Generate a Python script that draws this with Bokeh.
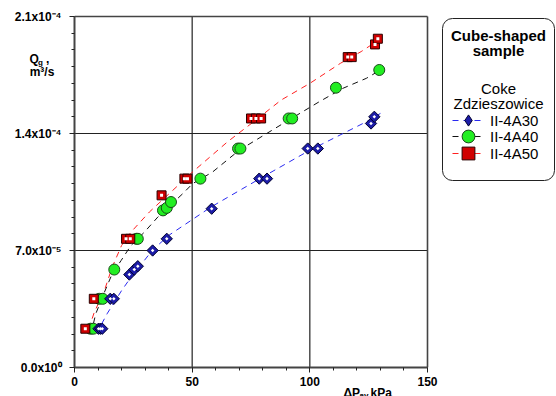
from math import pi
from bokeh.plotting import figure
from bokeh.models import (Range1d, FixedTicker, CustomJSTickFormatter, Label,
                          BoxAnnotation, Legend, LegendItem)
from bokeh.embed import file_html
from bokeh.resources import INLINE

# ---- data (dP in kPa, Q in m3/s) ----
x30 = [10.2, 11.0, 11.8, 15.2, 16.7, 23.3, 25.4, 26.9, 33.2, 39.2, 58.3, 78.5, 81.8, 99.1, 103.4, 126.0, 127.4]
y30 = [2.32e-5, 2.32e-5, 2.32e-5, 4.11e-5, 4.11e-5, 5.56e-5, 5.86e-5, 6.06e-5, 7.0e-5, 7.7e-5, 9.5e-5,
       11.3e-5, 11.3e-5, 13.1e-5, 13.1e-5, 14.6e-5, 15.0e-5]
x40 = [6.8, 8.0, 10.5, 12.0, 16.9, 26.3, 26.9, 37.6, 39.2, 41.0, 53.5, 69.5, 70.5, 91.0, 92.5, 111.1, 129.5]
y40 = [2.32e-5, 2.32e-5, 4.11e-5, 4.11e-5, 5.86e-5, 7.7e-5, 7.7e-5, 9.4e-5, 9.55e-5, 9.9e-5, 11.3e-5,
       13.1e-5, 13.1e-5, 14.9e-5, 14.9e-5, 16.74e-5, 17.8e-5]
x50 = [4.6, 8.2, 21.9, 23.7, 37.0, 46.7, 48.0, 75.0, 77.1, 79.3, 116.1, 117.8, 127.7, 128.9]
y50 = [2.32e-5, 4.11e-5, 7.7e-5, 7.7e-5, 10.3e-5, 11.3e-5, 11.3e-5, 14.9e-5, 14.9e-5, 14.9e-5,
       18.57e-5, 18.57e-5, 19.33e-5, 19.67e-5]

# trend lines
tx30 = [11.5, 14, 20, 23.5, 33, 40, 58, 80, 100, 124, 130]
ty30 = [2.6e-5, 3.25e-5, 4.6e-5, 5.3e-5, 7.0e-5, 7.9e-5, 9.6e-5, 11.4e-5, 13.0e-5, 14.7e-5, 15.2e-5]
tx40 = [7, 9, 12.7, 16, 19.8, 24, 29.7, 35.4, 46, 50.2, 58.7, 70, 91, 104, 114, 124, 130]
ty40 = [2.0e-5, 3.2e-5, 4.5e-5, 5.6e-5, 6.4e-5, 7.3e-5, 8.1e-5, 9.0e-5, 10.4e-5, 11.0e-5, 11.7e-5,
        13.0e-5, 14.8e-5, 15.9e-5, 16.7e-5, 17.3e-5, 17.8e-5]
tx50 = [6, 8.4, 12.7, 16, 20, 24, 31.8, 41, 50.2, 65, 77, 87.8, 100, 113, 121.8, 131]
ty50 = [2.3e-5, 3.3e-5, 4.6e-5, 6.0e-5, 7.3e-5, 8.1e-5, 9.3e-5, 10.5e-5, 11.7e-5, 13.5e-5, 14.8e-5,
        16.0e-5, 17.0e-5, 18.2e-5, 18.9e-5, 19.75e-5]

series_names = ["II-4A30", "II-4A40", "II-4A50"]
x_ticks = [0, 50, 100, 150]
y_ticks = [0.0, 7.0e-5, 1.4e-4, 2.1e-4]
x_grid = [50, 100]
y_grid = [7.0e-5, 1.4e-4]

X_MAX = x_ticks[-1]
Y_MAX = y_ticks[-1]
FONT = "Liberation Sans"
BLUE_FILL, BLUE_EDGE = "#1c1ca8", "#000030"
GREEN_FILL, GREEN_EDGE = "#22ee22", "#1a4a1a"
RED_FILL, RED_EDGE = "#d00000", "#2a0000"

# frame covers the plot box plus the legend area on the right and the top margin
p = figure(frame_width=482, frame_height=367,
           min_border_left=74, min_border_right=0, min_border_top=0, min_border_bottom=29,
           x_range=Range1d(0, X_MAX * 482 / 353), y_range=Range1d(0, Y_MAX * 367 / 351),
           toolbar_location=None, output_backend="svg",
           background_fill_color="white", border_fill_color="white")
p.outline_line_color = None
p.grid.visible = False

# axes
p.xaxis.ticker = FixedTicker(ticks=x_ticks, minor_ticks=list(range(0, 151, 10)))
p.yaxis.ticker = FixedTicker(ticks=y_ticks, minor_ticks=[i * 1e-5 for i in range(22)])
p.xaxis.bounds = (0, X_MAX)
p.yaxis.bounds = (0, Y_MAX)
p.yaxis.formatter = CustomJSTickFormatter(code="""
if (tick == 0) return "0.0x10\u2070";
const e = Math.floor(Math.log10(tick) + 1e-9);
const m = tick / Math.pow(10, e);
const sup = {"-":"\u207b","0":"\u2070","1":"\u00b9","2":"\u00b2","3":"\u00b3","4":"\u2074",
             "5":"\u2075","6":"\u2076","7":"\u2077","8":"\u2078","9":"\u2079"};
let s = "";
for (const c of String(e)) s += sup[c];
return m.toFixed(1) + "x10" + s;
""")
for ax in (p.xaxis, p.yaxis):
    ax.axis_line_color = "#444444"
    ax.axis_line_width = 2
    ax.major_tick_line_color = "#222222"
    ax.minor_tick_line_color = "#222222"
    ax.major_tick_in = 0
    ax.major_tick_out = 5
    ax.minor_tick_in = 0
    ax.minor_tick_out = 3
    ax.major_label_text_font = FONT
    ax.major_label_text_font_style = "bold"
    ax.major_label_text_font_size = "12px"
    ax.major_label_text_color = "black"
p.xaxis.major_label_standoff = 4
p.yaxis.major_label_standoff = 8

# grid lines and plot-box border (from the tick arrays)
p.segment(x0=x_grid, y0=[0] * len(x_grid), x1=x_grid, y1=[Y_MAX] * len(x_grid),
          line_color="#222222", line_width=1.2, level="underlay")
p.segment(x0=[0] * len(y_grid), y0=y_grid, x1=[X_MAX] * len(y_grid), y1=y_grid,
          line_color="#222222", line_width=1.2, level="underlay")
p.segment(x0=[0, X_MAX], y0=[Y_MAX, 0], x1=[X_MAX, X_MAX], y1=[Y_MAX, Y_MAX],
          line_color="#444444", line_width=1.6, level="underlay")

# series
l30 = p.line(tx30, ty30, line_color="#2a2af0", line_dash="6 5", line_width=1)
l40 = p.line(tx40, ty40, line_color="#111111", line_dash="6 5", line_width=1)
l50 = p.line(tx50, ty50, line_color="#ff2020", line_dash="6 5", line_width=1)

o40 = p.scatter(x40, y40, marker="circle", size=11, fill_color=GREEN_FILL,
                line_color=GREEN_EDGE, line_width=1)
o50 = p.scatter(x50, y50, marker="square", size=9, fill_color=RED_FILL,
                line_color=RED_EDGE, line_width=1)
i50 = p.scatter(x50, y50, marker="square", size=3, fill_color="white", line_color=None)
# diamond glyph (used by the legend, which ignores marker rotation); it sits
# fully inside the rotated square drawn on top of it
k30 = p.scatter(x30, y30, marker="diamond", size=9, fill_color=BLUE_FILL,
                line_color=BLUE_EDGE, line_width=1)
o30 = p.scatter(x30, y30, marker="square", angle=pi / 4, size=8, fill_color=BLUE_FILL,
                line_color=BLUE_EDGE, line_width=1)
i30 = p.scatter(x30, y30, marker="square", angle=pi / 4, size=2.5, fill_color="white",
                line_color=None)

# legend box (frame-relative screen units)
box = BoxAnnotation(left=368, right=480, top=349, bottom=187,
                    left_units="screen", right_units="screen",
                    top_units="screen", bottom_units="screen",
                    fill_color="white", fill_alpha=1.0,
                    line_color="#222222", line_width=1, line_alpha=1.0,
                    border_radius=10)
p.add_layout(box)

for txt, yy, style in [("Cube-shaped", 332, "bold"), ("sample", 317, "bold"),
                       ("Coke", 279, "normal"), ("Zdzieszowice", 264, "normal")]:
    p.add_layout(Label(x=424, y=yy, x_units="screen", y_units="screen", text=txt,
                       text_align="center", text_baseline="middle",
                       text_font=FONT, text_font_size="15px", text_font_style=style,
                       text_color="black"))

# one single-row legend per series, so rows can sit 16 px apart with full-size markers
for name, rends, gh, row_bottom in [(series_names[0], [l30, k30], 28, 233),
                                    (series_names[1], [l40, o40], 32, 215),
                                    (series_names[2], [l50, o50], 32, 198)]:
    p.add_layout(Legend(items=[LegendItem(label=name, renderers=rends)],
                        location=(378, row_bottom), padding=0, margin=0,
                        spacing=0, glyph_width=32, glyph_height=gh, label_height=gh,
                        label_standoff=6, border_line_alpha=0, background_fill_alpha=0,
                        label_text_font=FONT, label_text_font_size="15px",
                        label_text_color="black"))

# axis titles, drawn as labels in data coordinates; kept in the lower side panel so
# they are not clipped to the plotting frame
for txt, xx, yy, size, align, base in [("Q", -19.1, 1.846e-4, "12px", "left", "middle"),
                                       ("g", -15.5, 1.822e-4, "8px", "left", "middle"),
                                       (",", -12.1, 1.846e-4, "12px", "left", "middle"),
                                       ("m\u00b3/s", -13.8, 1.765e-4, "12px", "center", "middle"),
                                       ("\u0394P", 114.3, -1.5e-5, "12px", "left", "alphabetic"),
                                       ("av,", 121.1, -1.67e-5, "8px", "left", "alphabetic"),
                                       ("kPa", 125.8, -1.5e-5, "12px", "left", "alphabetic")]:
    p.add_layout(Label(x=xx, y=yy, text=txt, text_align=align, text_baseline=base,
                       text_font=FONT, text_font_size=size, text_font_style="bold",
                       text_color="black"), "below")

open("out.html", "w").write(file_html(p, INLINE))
